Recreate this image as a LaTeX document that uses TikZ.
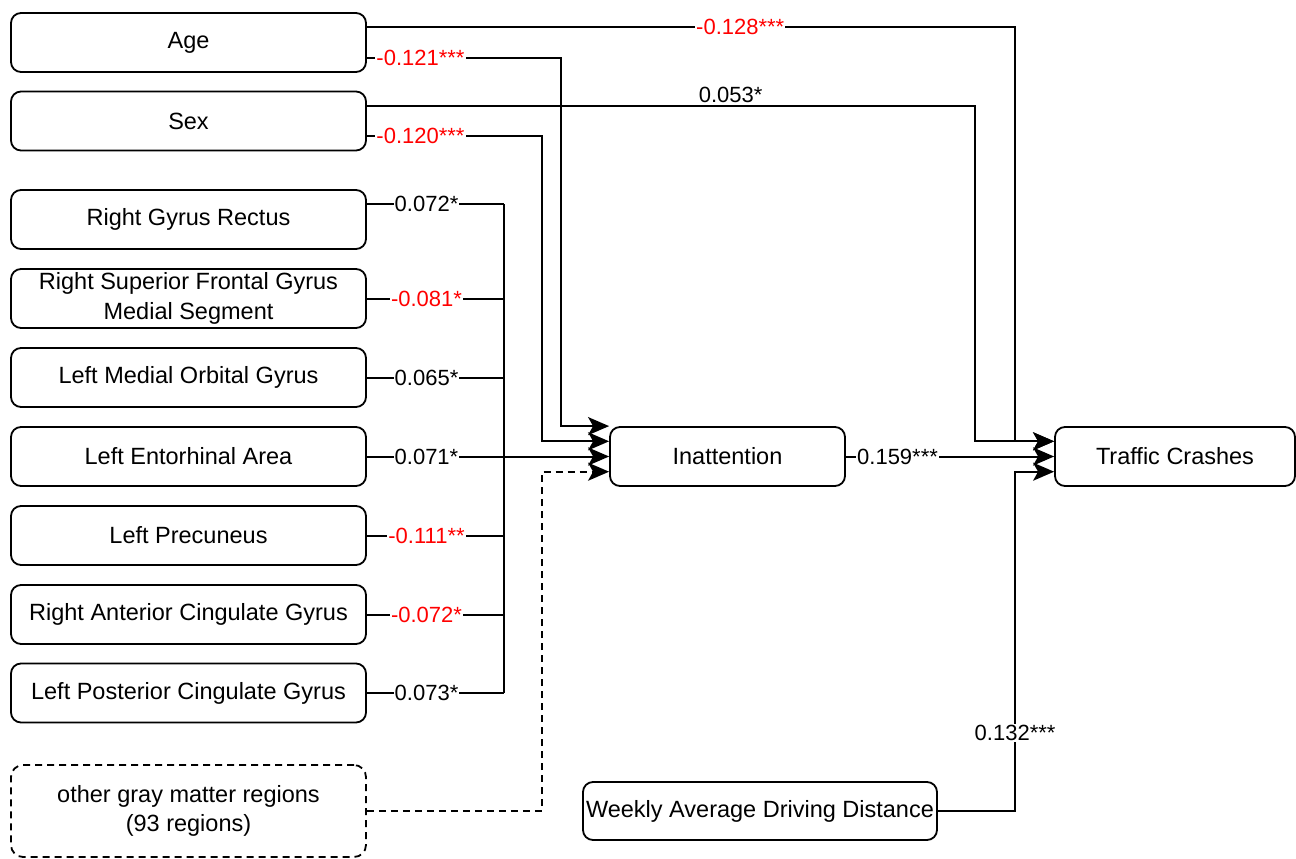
\documentclass[tikz,border=0pt]{standalone}
\usepackage{fontspec}
\setmainfont{Liberation Sans}
\usetikzlibrary{arrows.meta,calc}
\begin{document}
\begin{tikzpicture}[x=1pt,y=-1pt,
  box/.style={draw, line width=1.8pt, rounded corners=10pt, minimum width=355pt, minimum height=59pt, inner sep=0pt, align=center, font=\fontsize{23.5}{29.5}\selectfont},
  conn/.style={line width=2pt},
  arr/.style={conn, -{Stealth[length=21pt,width=18pt,inset=5pt]}},
  lab/.style={fill=white, inner sep=1pt, font=\fontsize{22}{26}\selectfont},
  neg/.style={lab, text=red},
  dsh/.style={dash pattern=on 7pt off 5pt}]
\useasboundingbox (0,0) rectangle (1296,859);

% left column
\node[box] (age)  at (188.5,42.5) {Age};
\node[box] (sex)  at (188.5,121) {Sex};
\node[box] (rgr)  at (188.5,219.5) {Right Gyrus Rectus};
\node[box] (rsf)  at (188.5,298.5) {Right Superior Frontal Gyrus\\Medial Segment};
\node[box] (lmo)  at (188.5,377.5) {Left Medial Orbital Gyrus};
\node[box] (lea)  at (188.5,456.5) {Left Entorhinal Area};
\node[box] (lpc)  at (188.5,535.5) {Left Precuneus};
\node[box] (rac)  at (188.5,614.5) {Right Anterior Cingulate Gyrus};
\node[box] (lpcg) at (188.5,693) {Left Posterior Cingulate Gyrus};
\node[box, dsh, minimum height=92pt, rounded corners=12pt] (other) at (188.5,811) {other gray matter regions\\(93 regions)};

% middle / right
\node[box, minimum width=235pt] (inatt) at (727.5,456.5) {Inattention};
\node[box, minimum width=240pt] (traffic) at (1175,456.5) {Traffic Crashes};
\node[box, minimum width=354pt, minimum height=58pt] (weekly) at (760,811) {Weekly Average Driving Distance};

% anchor coordinates
\coordinate (a1) at ($(age.north east)!0.25!(age.south east)$);
\coordinate (a2) at ($(age.north east)!0.75!(age.south east)$);
\coordinate (s1) at ($(sex.north east)!0.25!(sex.south east)$);
\coordinate (s2) at ($(sex.north east)!0.75!(sex.south east)$);
\coordinate (r1) at ($(rgr.north east)!0.25!(rgr.south east)$);
\coordinate (i0) at (inatt.north west);
\coordinate (i1) at ($(inatt.north west)!0.25!(inatt.south west)$);
\coordinate (i3) at ($(inatt.north west)!0.75!(inatt.south west)$);
\coordinate (t1) at ($(traffic.north west)!0.25!(traffic.south west)$);
\coordinate (t3) at ($(traffic.north west)!0.75!(traffic.south west)$);
\coordinate (bus) at (504,0);

% to Traffic Crashes
\draw[arr] (a1) -| node[neg, pos=0.288] {-0.128***} ($(t1)+(-39,0)$) -- (t1);
\draw[arr] (s1) -| node[lab, fill=none, anchor=south, inner sep=2pt, pos=0.299] {0.053*} ($(t1)+(-79,0)$) -- (t1);
\draw[arr] (inatt.east) -- node[lab, pos=0.248] {0.159***} (traffic.west);
\draw[arr] (weekly.east) -| node[lab, pos=0.615] {0.132***} ($(t3)+(-39,0)$) -- (t3);

% to Inattention
\draw[arr] (a2) -| node[neg, pos=0.138] {-0.121***} ($(i0)+(-48,0)$) -- (i0);
\draw[arr] (s2) -| node[neg, pos=0.153] {-0.120***} ($(i1)+(-67,0)$) -- (i1);
\draw[arr] (lea.east) -- node[lab, pos=0.246] {0.071*} (inatt.west);
\draw[arr, dsh] (other.east) -| ($(i3)+(-67,0)$) -- (i3);

% brain region bus
\draw[conn] (r1 -| bus) -- (lpcg.east -| bus);
\draw[conn] (r1) -- node[lab, pos=0.435] {0.072*} (r1 -| bus);
\draw[conn] (rsf.east) -- node[neg, pos=0.435] {-0.081*} (rsf.east -| bus);
\draw[conn] (lmo.east) -- node[lab, pos=0.435] {0.065*} (lmo.east -| bus);
\draw[conn] (lpc.east) -- node[neg, pos=0.435] {-0.111**} (lpc.east -| bus);
\draw[conn] (rac.east) -- node[neg, pos=0.435] {-0.072*} (rac.east -| bus);
\draw[conn] (lpcg.east) -- node[lab, pos=0.435] {0.073*} (lpcg.east -| bus);
\end{tikzpicture}
\end{document}
